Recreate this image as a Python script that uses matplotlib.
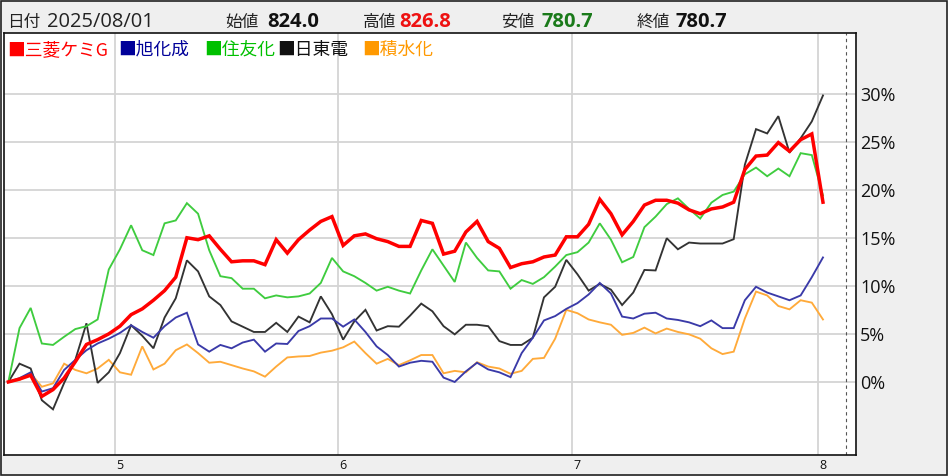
import matplotlib
matplotlib.use("Agg")
import matplotlib.pyplot as plt
from matplotlib.patches import Rectangle
import numpy as np

# trading days from mid April to 2025/08/01, values in % from the first day
red = [0, 0.3, 0.7, -1.5, -0.8, 0.4, 2.1, 3.9, 4.4, 5.0,
       5.8, 7.0, 7.6, 8.5, 9.5, 10.9, 15.0, 14.8, 15.2, 13.8,
       12.5, 12.6, 12.6, 12.2, 14.8, 13.4, 14.8, 15.8, 16.7, 17.2,
       14.2, 15.2, 15.4, 14.9, 14.6, 14.1, 14.1, 16.8, 16.5, 13.3,
       13.6, 15.6, 16.7, 14.6, 13.9, 11.9, 12.3, 12.5, 13.0, 13.2,
       15.1, 15.1, 16.4, 19.0, 17.5, 15.3, 16.7, 18.4, 18.9, 18.9,
       18.6, 17.9, 17.5, 18.0, 18.2, 18.7, 22.1, 23.5, 23.6, 24.9,
       24.0, 25.2, 25.8, 18.7]
blue = [0, 0.4, 1.0, -1.0, -0.65, 1.25, 2.3, 3.3, 4.0, 4.5,
        5.1, 5.9, 5.2, 4.6, 5.8, 6.7, 7.2, 3.9, 3.15, 3.85,
        3.5, 4.1, 4.4, 3.15, 4.0, 3.95, 5.3, 5.8, 6.6, 6.6,
        5.75, 6.5, 5.2, 3.7, 2.8, 1.6, 2.0, 2.2, 2.1, 0.45,
        0.0, 1.1, 2.0, 1.3, 1.0, 0.5, 3.0, 4.6, 6.4, 6.85,
        7.6, 8.2, 9.1, 10.3, 9.2, 6.8, 6.6, 7.1, 7.2, 6.6,
        6.45, 6.2, 5.8, 6.4, 5.6, 5.6, 8.5, 9.9, 9.3, 8.9,
        8.5, 9.0, 10.9, 12.95]
green = [0, 5.6, 7.7, 4.0, 3.85, 4.7, 5.5, 5.8, 6.5, 11.7,
         13.8, 16.3, 13.7, 13.2, 16.5, 16.8, 18.6, 17.5, 13.7, 11.0,
         10.8, 9.7, 9.7, 8.7, 9.0, 8.8, 8.9, 9.2, 10.3, 12.9,
         11.5, 11.0, 10.3, 9.5, 9.9, 9.5, 9.2, 11.6, 13.8, 12.1,
         10.4, 14.5, 12.9, 11.6, 11.5, 9.7, 10.6, 10.2, 10.9, 12.0,
         13.2, 13.5, 14.5, 16.5, 14.8, 12.45, 13.0, 16.1, 17.2, 18.5,
         19.1, 18.0, 17.0, 18.65, 19.45, 19.8, 21.6, 22.3, 21.4, 22.2,
         21.4, 23.8, 23.6, 19.4]
black = [0, 1.9, 1.4, -1.9, -2.85, -0.1, 2.3, 6.1, -0.1, 1.0,
         3.0, 5.9, 4.8, 3.5, 6.7, 8.7, 12.65, 11.5, 8.9, 8.0,
         6.3, 5.75, 5.2, 5.2, 6.15, 5.2, 6.8, 6.2, 8.9, 7.05,
         4.4, 6.3, 7.5, 5.35, 5.8, 5.75, 6.9, 8.15, 7.35, 5.8,
         4.95, 5.95, 5.95, 5.8, 4.25, 3.85, 3.85, 4.6, 8.8, 9.9,
         12.7, 11.2, 9.5, 10.2, 9.6, 8.0, 9.3, 11.65, 11.6, 14.95,
         13.8, 14.5, 14.4, 14.4, 14.4, 14.85, 22.6, 26.3, 25.85, 27.65,
         23.85, 25.35, 27.1, 29.8]
orange = [0, 0.2, 0.9, -0.5, -0.15, 1.9, 1.25, 0.9, 1.4, 2.3,
          1.0, 0.75, 3.7, 1.3, 1.9, 3.3, 3.9, 3.0, 2.0, 2.1,
          1.75, 1.4, 1.1, 0.55, 1.6, 2.55, 2.65, 2.7, 3.05, 3.25,
          3.6, 4.2, 3.0, 1.9, 2.4, 1.75, 2.25, 2.8, 2.8, 0.9,
          1.15, 1.0, 2.05, 1.6, 1.4, 0.85, 1.15, 2.4, 2.5, 4.5,
          7.5, 7.15, 6.5, 6.2, 5.95, 4.9, 5.1, 5.65, 5.05, 5.55,
          5.2, 4.95, 4.5, 3.5, 2.9, 3.15, 6.6, 9.4, 9.0, 7.9,
          7.55, 8.5, 8.25, 6.5]

names = ["三菱ケミG", "旭化成", "住友化", "日東電", "積水化"]
month_labels = ["5", "6", "7", "8"]
month_first_idx = [10, 30, 51, 73]   # first trading day of each month
y_ticks = [0, 5, 10, 15, 20, 25, 30]

header_labels = ["日付", "始値", "高値", "安値", "終値"]
header_values = ["2025/08/01", "824.0", "826.8", "780.7", "780.7"]

W, H = 948, 476
CJK = ["Noto Sans CJK JP", "DejaVu Sans"]
NUM = ["Open Sans", "DejaVu Sans"]


def fx(px):
    return px / W


def fy(py):
    return 1 - py / H


fig = plt.figure(figsize=(W / 100, H / 100), dpi=100)
fig.patch.set_facecolor("white")

# gray bands: header, right scale, bottom scale
band = "#efefef"
fig.add_artist(Rectangle((0, fy(33)), 1, fy(0) - fy(33), transform=fig.transFigure,
                         facecolor=band, edgecolor="none", zorder=-1))
fig.add_artist(Rectangle((fx(856), 0), 1 - fx(856), 1, transform=fig.transFigure,
                         facecolor=band, edgecolor="none", zorder=-1))
fig.add_artist(Rectangle((0, 0), 1, fy(455), transform=fig.transFigure,
                         facecolor=band, edgecolor="none", zorder=-1))

ax = fig.add_axes([fx(4), fy(455), fx(856) - fx(4), fy(33) - fy(455)])
ax.set_facecolor("white")

x = np.arange(len(red))
series = [(red, "#ff0000", 2.5), (blue, "#3a3aa8", 1.35), (green, "#3fcc3f", 1.35),
          (black, "#333333", 1.35), (orange, "#ffaa3a", 1.35)]
for vals, col, lw in reversed(series):
    ax.plot(x, vals, color=col, lw=lw, solid_joinstyle="miter")

ax.set_xlim(-0.39, 75.96)
ax.set_ylim(-7.6, 36.3)

ax.set_yticks(y_ticks)
ax.set_yticklabels([f"{v}%" for v in y_ticks], fontsize=13, family=NUM, color="#111111")
ax.yaxis.tick_right()
ax.tick_params(axis="y", length=0, pad=3)

ax.set_xticks(month_first_idx)
ax.set_xticklabels(month_labels, fontsize=9, family=NUM, color="#111111")
ax.set_xticks([i - 0.45 for i in month_first_idx], minor=True)
ax.tick_params(axis="x", which="both", length=0, pad=3)

ax.grid(axis="y", which="major", color="#d4d4d4", lw=1.3)
ax.grid(axis="x", which="minor", color="#d4d4d4", lw=1.3)
ax.set_axisbelow(True)
ax.axvline(75.1, color="#555555", lw=0.8, ls=(0, (3, 3)))

for s in ax.spines.values():
    s.set_color("#111111")
    s.set_linewidth(1.2)

# header
lab_x = [7, 225, 363, 501, 637]
val_x = [47, 267, 399, 541, 676]
val_col = ["#222222", "#111111", "#ee1111", "#1a7a1a", "#111111"]
for i, (lab, val) in enumerate(zip(header_labels, header_values)):
    fig.text(fx(lab_x[i]), fy(27), lab, family=CJK, fontsize=12, color="#222222",
             va="baseline", ha="left")
    fig.text(fx(val_x[i]), fy(27), val, family=NUM, fontsize=14.5, color=val_col[i],
             weight="normal" if i == 0 else "bold", va="baseline", ha="left")

# legend
leg_x = [7, 118, 204, 277, 362]
leg_col = ["#ff0000", "#000099", "#00c000", "#111111", "#ff9900"]
for i, name in enumerate(names):
    fig.text(fx(leg_x[i]), fy(55), "■" + name, family=CJK, fontsize=12.8,
             color=leg_col[i], va="baseline", ha="left")

# outer frame
fig.add_artist(Rectangle((fx(1), fy(475)), fx(946), fy(1) - fy(475), transform=fig.transFigure,
                         facecolor="none", edgecolor="#222222", lw=1.2))

fig.savefig("out.png", dpi=100)
